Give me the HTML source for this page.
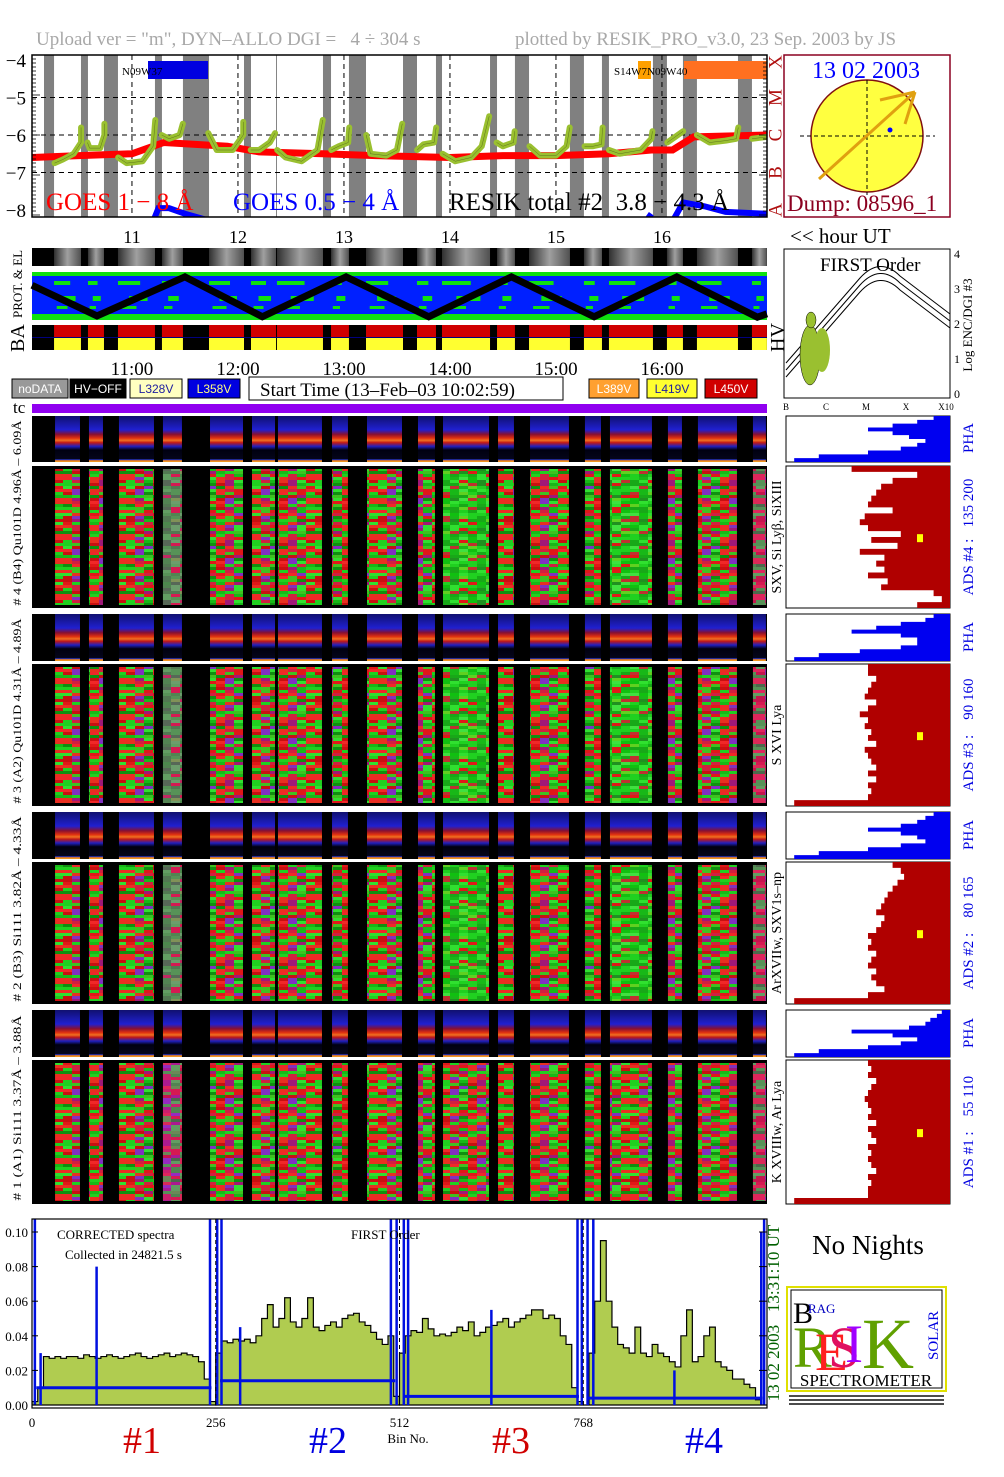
<!DOCTYPE html>
<html><head><meta charset="utf-8">
<style>
html,body{margin:0;padding:0;background:#fff;}
svg{display:block;font-family:"Liberation Serif",serif;}
text{white-space:pre;}
</style></head>
<body>
<svg id="root" xmlns="http://www.w3.org/2000/svg" width="1004" height="1477" viewBox="0 0 1004 1477">
<defs>
  <pattern id="tex" patternUnits="userSpaceOnUse" width="63" height="60"></pattern>
  <pattern id="texg" patternUnits="userSpaceOnUse" width="63" height="60"></pattern>
  <linearGradient id="pha" x1="0" y1="0" x2="0" y2="1">
    <stop offset="0" stop-color="#101070"/><stop offset="0.3" stop-color="#2020d0"/>
    <stop offset="0.4" stop-color="#8a1030"/><stop offset="0.48" stop-color="#e03010"/>
    <stop offset="0.53" stop-color="#f07020"/><stop offset="0.58" stop-color="#c01818"/>
    <stop offset="0.66" stop-color="#2020c0"/><stop offset="0.74" stop-color="#000010"/>
    <stop offset="0.93" stop-color="#05051a"/><stop offset="0.95" stop-color="#2030c0"/>
    <stop offset="0.97" stop-color="#f08020"/><stop offset="1" stop-color="#f0a020"/>
  </linearGradient>
  <linearGradient id="gs" x1="0" y1="0" x2="1" y2="0">
    <stop offset="0" stop-color="#303030"/><stop offset="0.5" stop-color="#a0a0a0"/><stop offset="1" stop-color="#505050"/>
  </linearGradient>
  <clipPath id="specClip"><rect x="32" y="1219" width="735" height="189"/></clipPath>
  <clipPath id="topClip"><rect x="32" y="55" width="735" height="162"/></clipPath>
</defs>
<g id="layer"></g>
</svg>
<script>
// ---------- DATA ----------
const onStart=[10.265,10.585,10.868,11.283,11.727,12.123,12.368,12.878,13.208,13.689,13.925,14.444,14.746,15.264,15.500,16.047,16.330,16.849];
const onEnd  =[10.519,10.736,11.217,11.481,12.057,12.359,12.802,13.047,13.557,13.868,14.378,14.613,15.132,15.434,15.915,16.198,16.717,16.990];
const hourTicks=[11,12,13,14,15,16];
const hourLabels=["11","12","13","14","15","16"];
const timeLabels=["11:00","12:00","13:00","14:00","15:00","16:00"];
const yTicks=[-4,-5,-6,-7,-8];
const goesLongH=[10.06,10.5,11.0,11.3,11.9,12.2,12.8,13.3,14.0,14.5,15.0,15.5,15.9,16.1,16.3,16.99];
const goesLongV=[-6.6,-6.55,-6.5,-6.2,-6.3,-6.45,-6.5,-6.55,-6.6,-6.55,-6.55,-6.5,-6.4,-6.4,-6.05,-6.0];
const goesShortA=[[11.2,-8.3],[11.25,-7.95],[11.35,-7.95],[11.5,-8.1],[11.75,-8.3]];
const goesShortB=[[15.85,-8.3],[15.9,-8.1]];
const goesShortC=[[16.1,-8.3],[16.2,-7.8],[16.4,-7.9],[16.6,-8.05],[16.99,-8.1]];
const resikSegs=[
 [[10.27,-6.75],[10.35,-6.65],[10.45,-6.5],[10.52,-6.2],[10.52,-5.8]],
 [[10.58,-6.2],[10.6,-6.35],[10.7,-6.35],[10.74,-6.0],[10.74,-5.7]],
 [[10.87,-6.6],[10.95,-6.75],[11.1,-6.7],[11.2,-6.3],[11.22,-5.6]],
 [[11.28,-6.0],[11.35,-6.1],[11.45,-6.0],[11.48,-5.7]],
 [[11.72,-5.95],[11.8,-6.4],[11.95,-6.4],[12.05,-6.0],[12.05,-5.65]],
 [[12.12,-6.4],[12.2,-6.4],[12.3,-6.2],[12.35,-5.95]],
 [[12.37,-6.4],[12.45,-6.6],[12.6,-6.7],[12.75,-6.4],[12.8,-5.6]],
 [[12.88,-6.4],[12.95,-6.3],[13.04,-6.2],[13.05,-5.8]],
 [[13.21,-6.0],[13.25,-6.5],[13.4,-6.55],[13.5,-6.4],[13.55,-5.7]],
 [[13.69,-6.4],[13.75,-6.25],[13.85,-6.2],[13.87,-5.8]],
 [[13.93,-6.5],[14.05,-6.7],[14.2,-6.6],[14.3,-6.3],[14.37,-5.5]],
 [[14.44,-6.2],[14.5,-6.3],[14.6,-6.2],[14.61,-5.9]],
 [[14.75,-6.3],[14.85,-6.55],[15.0,-6.55],[15.1,-6.3],[15.13,-5.8]],
 [[15.27,-6.3],[15.35,-6.3],[15.43,-6.25],[15.44,-5.8]],
 [[15.5,-6.4],[15.6,-6.5],[15.8,-6.4],[15.9,-6.1],[15.91,-5.9]],
 [[16.05,-6.2],[16.1,-6.1],[16.2,-5.9]],
 [[16.33,-6.0],[16.45,-6.2],[16.6,-6.15],[16.7,-6.1],[16.72,-5.8]],
 [[16.85,-6.1],[16.99,-6.05]]];
const zigH=[10.057,10.67,11.5,12.23,13.02,13.8,14.58,15.36,16.14,16.9,16.99];
const zigV=[0.22,0.95,0.02,0.97,0.02,0.97,0.02,0.97,0.02,0.98,0.9];
const specCh1=[0.002,0.01,0.028,0.027,0.028,0.027,0.028,0.028,0.027,0.029,0.028,0.027,0.028,0.029,0.028,0.027,0.028,0.029,0.030,0.028,0.027,0.028,0.029,0.030,0.028,0.029,0.030,0.029,0.028,0.025,0.015,0.002];
const specCh2=[0.03,0.037,0.036,0.038,0.037,0.038,0.036,0.04,0.05,0.058,0.045,0.05,0.062,0.048,0.045,0.05,0.062,0.045,0.043,0.046,0.048,0.045,0.05,0.052,0.053,0.048,0.046,0.042,0.038,0.035,0.04,0.005];
const specCh3=[0.03,0.04,0.043,0.042,0.05,0.044,0.04,0.041,0.04,0.042,0.045,0.043,0.048,0.04,0.042,0.045,0.046,0.048,0.05,0.045,0.048,0.05,0.052,0.055,0.055,0.05,0.052,0.05,0.04,0.035,0.01,0.002];
const specCh4=[0.0,0.03,0.06,0.095,0.06,0.045,0.035,0.033,0.03,0.045,0.03,0.028,0.035,0.03,0.028,0.025,0.022,0.04,0.055,0.025,0.028,0.04,0.045,0.025,0.022,0.02,0.015,0.015,0.012,0.01,0.003,0.0];
const blueLevel=[0.01,0.014,0.005,0.004];
const blueSpikeBin=[4,12,90,248,258,264,290,500,508,518,524,640,760,766,774,782,895,1016,1020];
const blueSpikeVal=[0.12,0.03,0.08,0.11,0.12,0.12,0.045,0.12,0.12,0.12,0.11,0.055,0.12,0.12,0.12,0.12,0.02,0.1,0.12];
const specYTicks=[0,0.02,0.04,0.06,0.08,0.10];
const specYLabels=["0.00","0.02","0.04","0.06","0.08","0.10"];
const binTicks=[0,256,512,768];
const ads4=[0.6,0.2,0.35,0.42,0.45,0.48,0.5,0.35,0.52,0.55,0.5,0.3,0.48,0.32,0.55,0.4,0.45,0.4,0.5,0.38,0.42,0.1,0.05,0.2];
const ads3=[0.5,0.5,0.45,0.48,0.5,0.52,0.45,0.5,0.55,0.5,0.52,0.48,0.5,0.45,0.52,0.5,0.48,0.45,0.5,0.45,0.5,0.48,0.5,0.95];
const ads2=[0.35,0.3,0.28,0.32,0.35,0.38,0.4,0.42,0.45,0.4,0.42,0.45,0.5,0.48,0.5,0.45,0.48,0.5,0.45,0.48,0.45,0.4,0.5,0.95];
const ads1=[0.5,0.48,0.5,0.45,0.48,0.5,0.52,0.5,0.48,0.5,0.45,0.5,0.48,0.45,0.5,0.48,0.5,0.48,0.45,0.5,0.48,0.5,0.5,0.95];
const pha4=[0.1,0.2,0.35,0.5,0.35,0.25,0.15,0.2,0.3,0.5,0.8,0.95];
const pha3=[0.1,0.15,0.3,0.45,0.6,0.3,0.2,0.2,0.3,0.55,0.8,0.95];
const pha2=[0.1,0.15,0.2,0.3,0.5,0.3,0.2,0.15,0.3,0.5,0.8,0.95];
const pha1=[0.05,0.08,0.12,0.15,0.25,0.6,0.35,0.2,0.3,0.5,0.8,0.95];

// ---------- HELPERS ----------
const NS="http://www.w3.org/2000/svg";
const L=document.getElementById('layer');
function mk(tag,attrs,parent){const el=document.createElementNS(NS,tag);for(const k in attrs)el.setAttribute(k,attrs[k]);(parent||L).appendChild(el);return el;}
function tx(x,y,s,size,fill,extra){const el=mk('text',Object.assign({x:x,y:y,'font-size':size,fill:fill||'#000'},extra||{}));el.textContent=s;return el;}
const X0=32,X1=767,H0=10.057,PXH=106;
function hx(h){return X0+(h-H0)*PXH;}
function ty(v){return 60+(-4-v)*37.5;}

(function(){
 const cols=['#e01818','#20d020','#d02040','#18b818','#e83020','#a01878','#30e030','#c81010','#8030c0','#109010','#f02828','#40c020'];
 const colsG=['#20d020','#18a818','#30e030','#e01818','#10c010','#209020','#40e040','#c03030','#18b818','#60d020'];
 const p=document.getElementById('tex'),pg=document.getElementById('texg');
 let k=0;
 for(let c=0;c<7;c++)for(let r=0;r<20;r++){k=(k*7+c*3+r*5+1)%cols.length;
  mk('rect',{x:c*9,y:r*3,width:9,height:3,fill:cols[k]},p);
  mk('rect',{x:c*9,y:r*3,width:9,height:3,fill:colsG[k%colsG.length]},pg);}
})();

// ---------- HEADER ----------
let e;
e=tx(36,45,'Upload ver = "m", DYN\u2013ALLO DGI =   4 \u00f7 304 s',19,'#a8a8a8');


e=tx(515,45,'plotted by RESIK_PRO_v3.0, 23 Sep. 2003 by JS',19,'#a8a8a8');



// ---------- TOP LIGHT CURVE ----------
const topG=mk('g',{'clip-path':'url(#topClip)'});


for(let i=0;i<onStart.length;i++){
 const gs=i===0?H0:onEnd[i-1], ge=onStart[i];
 const r=mk('rect',{x:hx(gs)+(i===0?12:0),y:55,width:Math.max(0,hx(ge)-hx(gs)-(i===0?12:0)),height:162,fill:'#808080'},topG);
 
 
}
for(const v of [-5,-6,-7]){mk('line',{x1:X0,x2:X1,y1:ty(v),y2:ty(v),stroke:'#000','stroke-dasharray':'5,4','stroke-width':1},topG);}
for(const h of hourTicks){mk('line',{x1:hx(h),x2:hx(h),y1:55,y2:217,stroke:'#000','stroke-dasharray':'5,4'},topG);}
e=mk('rect',{x:148,y:61,width:60,height:18,fill:'#0000e0'},topG);


e=tx(122,75,'N09W37',11,'#000');


e=mk('rect',{x:638,y:61,width:13,height:18,fill:'#ffa000'},topG);


e=mk('rect',{x:684,y:61,width:83,height:18,fill:'#ff7020'},topG);


tx(614,75,'S14W7N09W40',11,'#000');
let pts=goesLongH.map((h,i)=>hx(h)+','+ty(goesLongV[i])).join(' ');
e=mk('polyline',{points:pts,fill:'none',stroke:'#ff0000','stroke-width':7},topG);


for(const s of [goesShortA,goesShortB,goesShortC]){
 e=mk('polyline',{points:s.map(p=>hx(p[0])+','+ty(p[1])).join(' '),fill:'none',stroke:'#0000ff','stroke-width':6},topG);
 
 
}
for(const s of resikSegs){
 e=mk('polyline',{points:s.map(p=>hx(p[0])+','+ty(p[1])).join(' '),fill:'none',stroke:'#9ac030','stroke-width':6,'stroke-linejoin':'round','stroke-linecap':'round'},topG);
 
 
 mk('polyline',{points:s.map(p=>hx(p[0])+','+ty(p[1])).join(' '),fill:'none',stroke:'#000','stroke-width':0.5,'stroke-opacity':0.4},topG);
}
mk('rect',{x:X0,y:55,width:X1-X0,height:162,fill:'none',stroke:'#000','stroke-width':1.5});
for(const v of yTicks){e=tx(26,ty(v)+7,'\u2212'+Math.abs(v),19,'#000',{'text-anchor':'end'});
 
 }
for(let i=0;i<=40;i++){mk('line',{x1:X0,x2:X0+(i%10==0?8:4),y1:55+i*4,y2:55+i*4,stroke:'#000','stroke-width':0.8});
 mk('line',{x1:X1,x2:X1-(i%10==0?8:4),y1:55+i*4,y2:55+i*4,stroke:'#000','stroke-width':0.8});}
e=tx(46,210,'GOES 1 \u2212 8 \u00c5',25,'#ff0000');
e=tx(233,210,'GOES 0.5 \u2212 4 \u00c5',25,'#0000ff');
e=tx(449,210,'RESIK total #2  3.8 \u2212 4.3 \u00c5',25,'#000');
const cls=['X','M','C','B','A'];
cls.forEach((c,i)=>{const yy=Math.min(Math.max(ty(-4-i),62),212);e=tx(776,yy,c,19,'#b01010',{transform:'rotate(-90 776 '+yy+')','text-anchor':'middle','dominant-baseline':'central'});
 });
hourTicks.forEach((h,i)=>{e=tx(hx(h),243,hourLabels[i],18,'#000',{'text-anchor':'middle'});
 });
e=tx(790,243,'<< hour UT',21,'#000');

// ---------- SUN PANEL ----------
const sun=mk('g',{});


mk('rect',{x:784,y:55,width:166,height:162,fill:'#fff',stroke:'#8b0020','stroke-width':1.5},sun);
mk('circle',{cx:867,cy:136,r:56,fill:'#ffff40',stroke:'#801010','stroke-width':1.5},sun);
mk('line',{x1:800,x2:935,y1:136,y2:136,stroke:'#000','stroke-dasharray':'4,3'},sun);
mk('line',{x1:867,x2:867,y1:80,y2:195,stroke:'#000','stroke-dasharray':'4,3'},sun);
mk('line',{x1:819,y1:179,x2:915,y2:92,stroke:'#e0a010','stroke-width':3},sun);
mk('line',{x1:880,y1:100,x2:915,y2:92,stroke:'#e0a010','stroke-width':3},sun);
mk('line',{x1:905,y1:124,x2:915,y2:92,stroke:'#e0a010','stroke-width':3},sun);
mk('circle',{cx:890,cy:130,r:2.5,fill:'#0000ff'},sun);
tx(812,78,'13 02 2003',24,'#0000ff');
tx(787,211,'Dump: 08596_1',23,'#8b0020');

// ---------- GRAY STRIP / PROT & EL / BA ----------
mk('rect',{x:X0,y:248,width:735,height:18,fill:'#000'});
for(let i=0;i<onStart.length;i++){
 e=mk('rect',{x:hx(onStart[i]),y:248,width:hx(onEnd[i])-hx(onStart[i]),height:18,fill:'url(#gs)'});
 
}
const pe=mk('g',{});


mk('rect',{x:X0,y:272,width:735,height:48,fill:'#0020ff'},pe);
mk('rect',{x:X0,y:272,width:735,height:4,fill:'#10e010'},pe);
mk('rect',{x:X0,y:314,width:735,height:6,fill:'#10e010'},pe);
for(let i=0;i<onStart.length;i++){const a=hx(onStart[i]),b=hx(onEnd[i]);
 mk('rect',{x:a,y:281,width:(b-a)*0.6,height:4,fill:'#10e010'},pe);
 mk('rect',{x:a+(b-a)*0.3,y:296,width:(b-a)*0.5,height:5,fill:'#10e010'},pe);
 mk('rect',{x:a+(b-a)*0.1,y:306,width:(b-a)*0.4,height:3,fill:'#10e010'},pe);}
e=mk('polyline',{points:zigH.map((h,i)=>hx(h)+','+(276+zigV[i]*42)).join(' '),fill:'none',stroke:'#000','stroke-width':7},pe);

e=tx(22,318,'PROT. & EL',13,'#000',{transform:'rotate(-90 22 318)'});
mk('rect',{x:X0,y:325,width:735,height:25,fill:'#000'});
for(let i=0;i<onStart.length;i++){const a=hx(onStart[i]),b=hx(onEnd[i]);
 e=mk('rect',{x:a,y:325,width:b-a,height:12,fill:'#d00000'});
 mk('rect',{x:a,y:338,width:b-a,height:12,fill:'#ffff30'});}
mk('line',{x1:X0,x2:X1,y1:337.5,y2:337.5,stroke:'#000080','stroke-width':1});
e=tx(24,352,'BA',20,'#000',{transform:'rotate(-90 24 352)'});
e=tx(784,352,'HV',20,'#000',{transform:'rotate(-90 784 352)'});
timeLabels.forEach((t,i)=>{e=tx(hx(hourTicks[i]),375,t,19,'#000',{'text-anchor':'middle'});});

const leg=[[12,'#999','#fff','noDATA',56],[70,'#000','#fff','HV\u2212OFF',56],[130,'#ffffc0','#2020a0','L328V',52],[188,'#0000e0','#ffff80','L358V',52],[589,'#ffa030','#fff','L389V',50],[647,'#ffff30','#2020a0','L419V',50],[705,'#d00000','#fff','L450V',52]];
for(const l of leg){e=mk('rect',{x:l[0],y:379,width:l[4],height:19,fill:l[1],stroke:'#000'});
 
 tx(l[0]+l[4]/2,393,l[3],12,l[2],{'text-anchor':'middle','font-family':'Liberation Sans, sans-serif'});}
e=mk('rect',{x:249,y:377,width:314,height:23,fill:'#fff',stroke:'#000'});

tx(260,396,'Start Time (13\u2013Feb\u201303 10:02:59)',19,'#000');
tx(13,413,'tc',17,'#000');
e=mk('rect',{x:X0,y:404,width:735,height:9,fill:'#9000f0'});

// ---------- SPECTROGRAM PANELS ----------
const panels=[
 {y:416,h:46,t:'pha',nm:'pha-ch4'},{y:466,h:142,t:'ads',nm:'ads-ch4'},
 {y:614,h:47,t:'pha',nm:'pha-ch3'},{y:664,h:142,t:'ads',nm:'ads-ch3'},
 {y:812,h:47,t:'pha',nm:'pha-ch2'},{y:862,h:142,t:'ads',nm:'ads-ch2'},
 {y:1010,h:47,t:'pha',nm:'pha-ch1'},{y:1060,h:144,t:'ads',nm:'ads-ch1'}];
panels.forEach((p,pi)=>{
 const g=mk('g',{});
 
 
 mk('rect',{x:X0,y:p.y,width:735,height:p.h,fill:'#000'},g);
 for(let i=0;i<onStart.length;i++){const a=hx(onStart[i]),b=hx(onEnd[i]);
  let fill=p.t==='pha'?'url(#pha)':((i===3||i===14||i===10)&&pi<6?'url(#texg)':'url(#tex)');
  const c=mk('rect',{x:a+1,y:p.y+(p.t==='ads'?3:0),width:b-a-2,height:p.h-(p.t==='ads'?6:0),fill:fill},g);
  
  
  if(p.t==='ads'&&(i===3||i===17)){mk('rect',{x:a+1,y:p.y+3,width:b-a-2,height:p.h-6,fill:'#c020c0','fill-opacity':0.35},g);}
 }
 const rx0=786,rx1=950;
 mk('rect',{x:rx0,y:p.y,width:rx1-rx0,height:p.h,fill:'#fff',stroke:'#000'});
 const arr=p.t==='pha'?[pha4,pha3,pha2,pha1][pi>>1]:[ads4,ads3,ads2,ads1][pi>>1];
 const n=arr.length,dy=p.h/n;let poly=rx1+','+p.y;
 arr.forEach((v,i)=>{const xx=rx1-v*(rx1-rx0);poly+=' '+xx+','+(p.y+i*dy)+' '+xx+','+(p.y+(i+1)*dy);});
 poly+=' '+rx1+','+(p.y+p.h);
 const hp=mk('polygon',{points:poly,fill:p.t==='pha'?'#0000f0':'#b00000'});
 
 
 if(p.t==='ads')mk('rect',{x:917,y:p.y+p.h*0.48,width:6,height:8,fill:'#ffff00'});
});
const leftLab=[[513,'# 4 (B4) Qu101D 4.96\u00c5 \u2013 6.09\u00c5'],[711,'# 3 (A2) Qu101D 4.31\u00c5 \u2013 4.89\u00c5'],[909,'# 2 (B3) Si111 3.82\u00c5 \u2013 4.33\u00c5'],[1108,'# 1 (A1) Si111 3.37\u00c5 \u2013 3.88\u00c5']];
for(const l of leftLab){e=tx(21,l[0],l[1],12,'#000',{transform:'rotate(-90 21 '+l[0]+')','text-anchor':'middle',textLength:185,lengthAdjust:'spacingAndGlyphs'});
 }
const midLab=[[537,'SXV, Si Ly\u03b2, SiXIII'],[735,'S XVI Lya'],[933,'ArXVIIw, SXV1s\u2013np'],[1132,'K XVIIIw, Ar Lya']];
for(const l of midLab){e=tx(781,l[0],l[1],14,'#000',{transform:'rotate(-90 781 '+l[0]+')','text-anchor':'middle'});
 }
const rLab=[[438,'PHA'],[537,'ADS #4 :   135 200'],[637,'PHA'],[735,'ADS #3 :    90 160'],[835,'PHA'],[933,'ADS #2 :    80 165'],[1033,'PHA'],[1132,'ADS #1 :    55 110']];
for(const l of rLab){e=tx(973,l[0],l[1],15,'#0000e0',{transform:'rotate(-90 973 '+l[0]+')','text-anchor':'middle'});
 }

// ---------- FIRST ORDER BOX ----------
const fo=mk('g',{});


mk('rect',{x:784,y:249,width:166,height:149,fill:'#fff',stroke:'#000'},fo);
tx(820,271,'FIRST Order',19,'#000');
for(const o of [0,7,14]){mk('path',{d:`M786 ${377-o} L860 ${292-o} Q880 ${270-o} 900 ${290-o} L950 ${328-o}`,fill:'none',stroke:'#000','stroke-width':1},fo);}
mk('ellipse',{cx:810,cy:355,rx:10,ry:30,fill:'#9ac030',stroke:'#000','stroke-width':0.5},fo);
mk('ellipse',{cx:822,cy:350,rx:8,ry:22,fill:'#9ac030'},fo);
mk('ellipse',{cx:811,cy:320,rx:5,ry:8,fill:'#9ac030',stroke:'#000','stroke-width':0.5},fo);
['4','3','2','1','0'].forEach((s,i)=>tx(954,258+i*35,s,12,'#000'));
e=tx(972,325,'Log ENC/DGI #3',13,'#000',{transform:'rotate(-90 972 325)','text-anchor':'middle'});

['B','C','M','X','X10'].forEach((s,i)=>tx(786+i*40,410,s,9,'#000',{'text-anchor':'middle'}));

// ---------- SPECTRUM ----------
const SX0=32,SPX=735/1024,SY0=1405,SPY=1730;
function bx(b){return SX0+b*SPX;}
function sy(v){return SY0-v*SPY;}
const sg=mk('g',{'clip-path':'url(#specClip)'});


[specCh1,specCh2,specCh3,specCh4].forEach((arr,c)=>{
 let d='M'+bx(c*256)+','+SY0;
 arr.forEach((v,i)=>{d+=' L'+bx(c*256+i*8)+','+sy(v)+' L'+bx(c*256+i*8+8)+','+sy(v);});
 d+=' L'+bx(c*256+256)+','+SY0+'Z';
 const a=mk('path',{d:d,fill:'#b0cc50',stroke:'#000','stroke-width':1.2},sg);
 
 
 const bl=mk('line',{x1:bx(c*256+6),x2:bx(c*256+250),y1:sy(blueLevel[c]),y2:sy(blueLevel[c]),stroke:'#0010e0','stroke-width':3},sg);
 
 
});
blueSpikeBin.forEach((b,i)=>{const s=mk('line',{x1:bx(b),x2:bx(b),y1:SY0,y2:sy(blueSpikeVal[i]),stroke:'#0010e0','stroke-width':2.5},sg);
 
 });
for(const b of [256,512,768]){mk('line',{x1:bx(b),x2:bx(b),y1:1219,y2:1408,stroke:'#000','stroke-dasharray':'4,3'},sg);}
mk('rect',{x:32,y:1219,width:735,height:189,fill:'none',stroke:'#000','stroke-width':1.2});
specYTicks.forEach((v,i)=>{e=tx(28,sy(v)+5,specYLabels[i],13,'#000',{'text-anchor':'end'});
 
 mk('line',{x1:32,x2:38,y1:sy(v),y2:sy(v),stroke:'#000'});mk('line',{x1:767,x2:759,y1:sy(v),y2:sy(v),stroke:'#000'});});
binTicks.forEach(b=>{e=tx(bx(b),1427,String(b),13,'#000',{'text-anchor':'middle'});
 });
tx(57,1239,'CORRECTED spectra',13,'#000');
tx(65,1259,'Collected in 24821.5 s',13,'#000');
tx(351,1239,'FIRST Order',13,'#000');
e=tx(408,1443,'Bin No.',13,'#000',{'text-anchor':'middle'});
e=tx(779,1313,'13 02 2003   13:31:10 UT',17,'#006000',{transform:'rotate(-90 779 1313)','text-anchor':'middle'});

const chLab=[[142,'#1','#d00000'],[328,'#2','#0000e0'],[511,'#3','#d00000'],[704,'#4','#0000e0']];
for(const c of chLab){e=tx(c[0],1453,c[1],38,c[2],{'text-anchor':'middle'});
 }

// ---------- NO NIGHTS + LOGO ----------
e=tx(868,1254,'No Nights',27,'#000',{'text-anchor':'middle'});

const lg=mk('g',{});


mk('rect',{x:787,y:1287,width:159,height:104,fill:'#fff',stroke:'#e0e000','stroke-width':2},lg);
mk('rect',{x:791,y:1290,width:151,height:98,fill:'none',stroke:'#000','stroke-width':1},lg);
tx(793,1323,'B',30,'#000');
tx(808,1313,'RAG',13,'#0000c0');
tx(793,1367,'R',58,'#60a000');
tx(815,1370,'E',54,'#ff2020');
tx(828,1367,'S',58,'#e01060');
tx(845,1362,'I',54,'#a000ff');
tx(862,1368,'K',72,'#60a000');
tx(938,1360,'SOLAR',15,'#0000e0',{transform:'rotate(-90 938 1360)'});
tx(866,1386,'SPECTROMETER',17,'#000',{'text-anchor':'middle'});
for(let i=0;i<3;i++)mk('rect',{x:789,y:1395+i*4,width:155,height:2,fill:'#000','fill-opacity':0.7});
</script>
</body></html>
